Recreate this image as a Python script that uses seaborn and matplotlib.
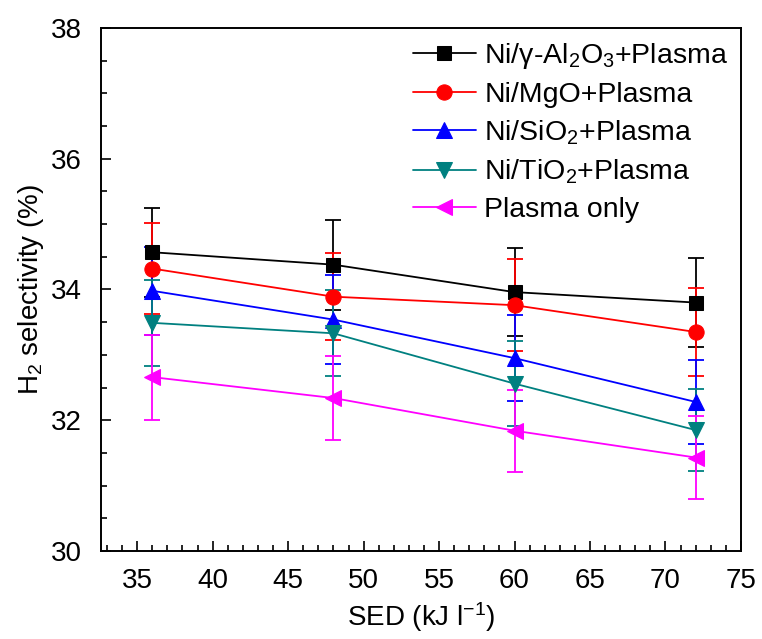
import numpy as np
import pandas as pd
import matplotlib
matplotlib.use("Agg")
import matplotlib.pyplot as plt
import seaborn as sns
from matplotlib.ticker import MultipleLocator

sed = [36, 48, 60, 72]
labels = ["Ni/$\\gamma$-Al$_2$O$_3$+Plasma", "Ni/MgO+Plasma", "Ni/SiO$_2$+Plasma",
          "Ni/TiO$_2$+Plasma", "Plasma only"]
al2o3 = [34.57, 34.38, 33.96, 33.80]
mgo = [34.32, 33.89, 33.76, 33.35]
sio2 = [33.98, 33.54, 32.95, 32.28]
tio2 = [33.49, 33.33, 32.56, 31.85]
plasma = [32.66, 32.34, 31.84, 31.43]
err_al2o3 = [0.68, 0.69, 0.67, 0.68]
err_mgo = [0.70, 0.67, 0.70, 0.67]
err_sio2 = [0.67, 0.68, 0.66, 0.64]
err_tio2 = [0.66, 0.66, 0.65, 0.63]
err_plasma = [0.65, 0.64, 0.63, 0.63]

series = [al2o3, mgo, sio2, tio2, plasma]
errs = [err_al2o3, err_mgo, err_sio2, err_tio2, err_plasma]
colors = ["#000000", "#ff0000", "#0000ff", "#008080", "#ff00ff"]
markers = ["s", "o", "^", "v", "<"]
msizes = [10, 11, 11, 11, 11]

sns.set_style("ticks")
plt.rcParams['font.family'] = ['Liberation Sans', 'DejaVu Sans']
plt.rcParams['mathtext.fontset'] = 'custom'
plt.rcParams['mathtext.rm'] = 'Liberation Sans'
plt.rcParams['mathtext.it'] = 'Liberation Sans:italic'
plt.rcParams['mathtext.default'] = 'regular'
for k in ['text.color', 'axes.labelcolor', 'xtick.color', 'ytick.color']:
    plt.rcParams[k] = 'black'

fig = plt.figure(figsize=(7.62, 6.39), dpi=100)
ax = fig.add_axes([0.1325, 0.1377, 0.8399, 0.8185])

for lab, vals, er, c, m, ms in zip(labels, series, errs, colors, markers, msizes):
    df = pd.DataFrame({"SED": sed, "sel": vals})
    ax.errorbar(sed, vals, yerr=er, fmt='none', ecolor=c, elinewidth=1.3,
                capsize=6, capthick=1.3, zorder=2)
    sns.lineplot(data=df, x="SED", y="sel", ax=ax, color=c, marker=m,
                 markersize=ms, markeredgecolor=c, linewidth=1.3, label=lab,
                 zorder=3)

ax.set_xlim(32.6, 75)
ax.set_ylim(30, 38)
ax.xaxis.set_major_locator(MultipleLocator(5))
ax.xaxis.set_minor_locator(MultipleLocator(1))
ax.yaxis.set_major_locator(MultipleLocator(2))
ax.yaxis.set_minor_locator(MultipleLocator(0.5))
ax.tick_params(which='both', direction='in', top=False, right=False, labelsize=20, width=1.2)
ax.tick_params(which='major', length=7)
ax.tick_params(which='minor', length=4)
ax.tick_params(axis='x', which='major', pad=12)
ax.tick_params(axis='y', which='major', pad=14)
for s in ax.spines.values():
    s.set_linewidth(1.4)
    s.set_color('black')
ax.set_xlabel("SED (kJ l$^{-1}$)", fontsize=20, labelpad=5)
ax.set_ylabel("H$_2$ selectivity (%)", fontsize=20, labelpad=3)

h, l = ax.get_legend_handles_labels()
ax.legend(h, l, loc='upper right', frameon=False, fontsize=20.5,
          handlelength=2.2, handletextpad=0.3, labelspacing=0.38,
          borderaxespad=0.05, bbox_to_anchor=(1.0, 1.0))

fig.savefig("out.png", dpi=100)
